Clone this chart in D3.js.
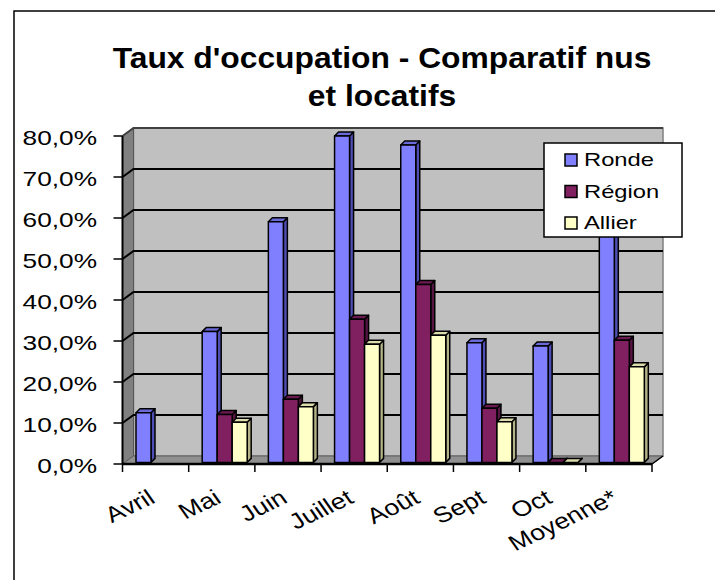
<!DOCTYPE html>
<html>
<head>
<meta charset="utf-8">
<script src="https://cdn.jsdelivr.net/npm/d3@7"></script>
<style>
  html, body { margin: 0; padding: 0; background: #fff; }
  svg { display: block; font-family: "Liberation Sans", Arial, sans-serif; }
</style>
</head>
<body>
<div id="chart"></div>
<script>
const WIDTH  = 715;
const HEIGHT = 580;

// data (percent)
const categories  = ["Avril", "Mai", "Juin", "Juillet", "Août", "Sept", "Oct", "Moyenne*"];
const seriesNames = ["Ronde", "Région", "Allier"];
const ronde  = [12.1, 31.9, 58.7, 79.6, 77.4, 29.2, 28.4, 62.0];
const region = [null, 11.7, 15.4, 34.9, 43.4, 13.2, 0, 29.8];
const allier = [null, 9.8, 13.6, 28.8, 31.0, 9.9, 0, 23.3];
const yTicks = [0, 10, 20, 30, 40, 50, 60, 70, 80];
const titleLines = ["Taux d'occupation - Comparatif nus", "et locatifs"];

const seriesValues = [ronde, region, allier];
const colors = [
  { front: "#8080ff", side: "#4e4eb4", top: "#6a6ad8" },
  { front: "#802060", side: "#561542", top: "#6a1a50" },
  { front: "#ffffc8", side: "#b4b488", top: "#dcdcac" }
];

// 3D geometry
const DX = 11, DY = -8;          // wall depth
const BDX = 4, BDY = -4;         // bar depth
const BAR_SHIFT = -1.6;          // bars sit a bit behind the front edge
const SX = 1.25;                 // horizontal text stretch seen in the picture

const x = d3.scaleBand().domain(categories).range([122.5, 652]);
const xs = d3.scaleBand().domain(seriesNames).range([13.5, 58.5]);
const y = d3.scaleLinear().domain([0, 80]).range([464, 136]);

const svg = d3.select("#chart").append("svg")
  .attr("width", WIDTH).attr("height", HEIGHT);

// frame
svg.append("rect")
  .attr("x", 14).attr("y", 11)
  .attr("width", 760).attr("height", 620)
  .attr("fill", "#fff").attr("stroke", "#000").attr("stroke-width", 1.5);

// title
titleLines.forEach((t, i) => {
  svg.append("text")
    .attr("transform", `translate(382,${68 + i * 38}) scale(1.06,1)`)
    .attr("text-anchor", "middle")
    .attr("font-size", 30).attr("font-weight", "bold")
    .text(t);
});

const x0 = x.range()[0], x1 = x.range()[1];
const pts = p => p.map(d => d.join(",")).join(" ");

// back wall
svg.append("polygon")
  .attr("points", pts([[x0 + DX, y(80) + DY], [x1 + DX, y(80) + DY], [x1 + DX, y(0) + DY], [x0 + DX, y(0) + DY]]))
  .attr("fill", "#c0c0c0").attr("stroke", "#808080").attr("stroke-width", 1.5);

// side wall
svg.append("polygon")
  .attr("points", pts([[x0, y(0)], [x0 + DX, y(0) + DY], [x0 + DX, y(80) + DY], [x0, y(80)]]))
  .attr("fill", "#808080").attr("stroke", "#555").attr("stroke-width", 1);

// floor
svg.append("polygon")
  .attr("points", pts([[x0, y(0)], [x1, y(0)], [x1 + DX, y(0) + DY], [x0 + DX, y(0) + DY]]))
  .attr("fill", "#909090").attr("stroke", "#606060").attr("stroke-width", 1);

// gridlines
const grid = svg.append("g").attr("stroke", "#000").attr("stroke-width", 2).attr("fill", "none");
yTicks.filter(v => v > 0).forEach(v => {
  grid.append("polyline")
    .attr("points", pts([[x0, y(v)], [x0 + DX, y(v) + DY], [x1 + DX, y(v) + DY]]))
    .attr("stroke", v === 80 ? "#404040" : "#000");
});

// axes lines and ticks
svg.append("line")
  .attr("x1", x0).attr("x2", x0).attr("y1", y(80)).attr("y2", y(0))
  .attr("stroke", "#000").attr("stroke-width", 2);
svg.append("line")
  .attr("x1", x0).attr("x2", x1).attr("y1", y(0)).attr("y2", y(0))
  .attr("stroke", "#000").attr("stroke-width", 2.5);
svg.append("line")
  .attr("x1", x1).attr("x2", x1 + DX).attr("y1", y(0)).attr("y2", y(0) + DY)
  .attr("stroke", "#000").attr("stroke-width", 1.5);

svg.append("g").selectAll("line").data(yTicks).join("line")
  .attr("x1", x0 - 9).attr("x2", x0)
  .attr("y1", d => y(d)).attr("y2", d => y(d))
  .attr("stroke", "#000").attr("stroke-width", 1.5);

const bounds = categories.map(c => x(c)).concat([x1]);
svg.append("g").selectAll("line").data(bounds).join("line")
  .attr("x1", d => d).attr("x2", d => d)
  .attr("y1", y(0)).attr("y2", y(0) + 8)
  .attr("stroke", "#000").attr("stroke-width", 1.5);

// y labels
svg.append("g").selectAll("text").data(yTicks).join("text")
  .attr("transform", d => `translate(97,${y(d) + 9}) scale(${SX},1)`)
  .attr("text-anchor", "end")
  .attr("font-size", 21)
  .text(d => d3.format(".1f")(d).replace(".", ",") + "%");

// x labels (rotated, then stretched like the rest of the text)
svg.append("g").selectAll("text").data(categories).join("text")
  .attr("transform", d => `translate(${x(d) + x.bandwidth() / 2 + 1},502) scale(1.22,1) rotate(-30)`)
  .attr("text-anchor", "end")
  .attr("font-size", 22)
  .text(d => d);

// bars (3D columns)
const bars = svg.append("g").attr("stroke", "#000").attr("stroke-width", 1.5).attr("stroke-linejoin", "round");
categories.forEach((c, ci) => {
  seriesNames.forEach((s, si) => {
    const v = seriesValues[si][ci];
    if (v === null) return;
    const col = colors[si];
    const bx = x(c) + xs(s);
    const bw = xs.bandwidth();
    const yt = y(v) + BAR_SHIFT;
    const yb = y(0) + BAR_SHIFT;
    // side
    bars.append("polygon")
      .attr("points", pts([[bx + bw, yb], [bx + bw + BDX, yb + BDY], [bx + bw + BDX, yt + BDY], [bx + bw, yt]]))
      .attr("fill", col.side);
    // top
    bars.append("polygon")
      .attr("points", pts([[bx, yt], [bx + bw, yt], [bx + bw + BDX, yt + BDY], [bx + BDX, yt + BDY]]))
      .attr("fill", col.top);
    // front
    if (yb - yt > 0.5) {
      bars.append("rect")
        .attr("x", bx).attr("y", yt)
        .attr("width", bw).attr("height", yb - yt)
        .attr("fill", col.front);
    }
  });
});

// legend
const lg = svg.append("g").attr("transform", "translate(544,143)");
lg.append("rect")
  .attr("width", 138).attr("height", 94)
  .attr("fill", "#fff").attr("stroke", "#000").attr("stroke-width", 1.5);
seriesNames.forEach((s, i) => {
  lg.append("rect")
    .attr("x", 21).attr("y", 11 + i * 31.5)
    .attr("width", 12).attr("height", 12)
    .attr("fill", colors[i].front).attr("stroke", "#000").attr("stroke-width", 1.5);
  lg.append("text")
    .attr("transform", `translate(40,${23 + i * 31.5}) scale(${SX},1)`)
    .attr("font-size", 19)
    .text(s);
});
</script>
</body>
</html>
